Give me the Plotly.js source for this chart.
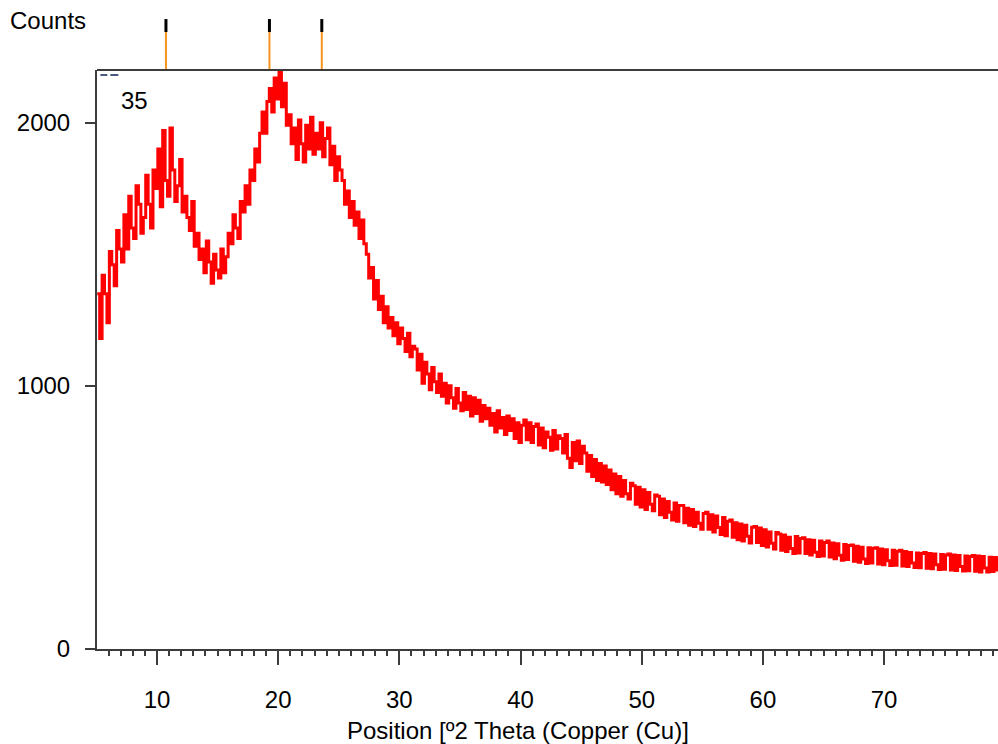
<!DOCTYPE html>
<html><head><meta charset="utf-8">
<script src="https://cdn.plot.ly/plotly-3.0.1.min.js"></script>
<style>html,body{margin:0;padding:0;background:#fff}#chart{width:998px;height:744px}</style>
</head><body><div id="chart"></div>
<script>
// Scan grid (2θ)
const thetaStart = 5.07;
const thetaStep = 0.2;
// Counts, one row = 2°
const counts = [
  1350,
  1180, 1420, 1350, 1240, 1510, 1460, 1380, 1590, 1520, 1470,
  1650, 1520, 1720, 1600, 1560, 1760, 1690, 1580, 1640, 1800,
  1690, 1600, 1820, 1750, 1900, 1680, 1970, 1780, 1720, 1980,
  1820, 1700, 1760, 1860, 1660, 1720, 1640, 1590, 1700, 1530,
  1580, 1480, 1520, 1430, 1550, 1470, 1390, 1500, 1440, 1410,
  1520, 1430, 1490, 1580, 1540, 1650, 1600, 1560, 1700, 1660,
  1760, 1690, 1820, 1780, 1900, 1850, 1960, 2040, 1960, 2080,
  2130, 2040, 2170, 2090, 2195, 2060, 2150, 1990, 2030, 1920,
  1980, 1860, 2010, 1920, 1850, 1990, 1900, 2020, 1880, 1960,
  1900, 2000, 1870, 1940, 1980, 1840, 1910, 1780, 1870, 1820,
  1780, 1690, 1740, 1640, 1700, 1610, 1660, 1560, 1630, 1540,
  1500, 1410, 1450, 1330, 1400, 1290, 1340, 1240, 1300, 1220,
  1260, 1190, 1240, 1160, 1220, 1180, 1130, 1200, 1110, 1150,
  1140, 1060, 1120, 1010, 1090, 1045, 985, 1070, 1015, 975,
  1045, 960, 1010, 935, 1000, 955, 915, 990, 935, 905,
  975, 910, 960, 885, 955, 895, 945, 865, 925, 875,
  915, 850, 895, 825, 905, 840, 880, 815, 885, 830,
  875, 800, 860, 785, 850, 870, 795, 860, 785, 845,
  855, 775, 840, 765, 825, 805, 755, 830, 760, 810,
  800, 745, 815, 725, 690, 785, 715, 790, 705, 770,
  745, 675, 735, 655, 720, 640, 705, 635, 695, 625,
  680, 605, 665, 590, 655, 580, 640, 590, 570, 630,
  620, 550, 615, 540, 605, 530, 595, 550, 525, 585,
  580, 510, 570, 500, 560, 520, 490, 555, 485, 545,
  545, 480, 535, 470, 530, 465, 520, 478, 455, 515,
  520, 455, 510, 445, 505, 462, 435, 500, 430, 485,
  490, 425, 480, 415, 475, 410, 470, 428, 403, 463,
  465, 405, 460, 393, 453, 388, 445, 402, 380, 443,
  437, 375, 433, 370, 425, 382, 363, 427, 365, 420,
  423, 363, 415, 357, 413, 368, 351, 410, 353, 405,
  410, 350, 403, 343, 400, 356, 337, 397, 340, 393,
  395, 333, 390, 330, 387, 342, 325, 385, 327, 383,
  385, 323, 380, 320, 377, 335, 317, 375, 318, 371,
  375, 315, 370, 313, 367, 327, 310, 365, 309, 363,
  367, 307, 363, 305, 361, 320, 302, 359, 303, 357,
  361, 300, 357, 298, 355, 313, 296, 353, 297, 351,
  355, 295, 353, 293, 351, 308, 293, 349, 294, 348,
  300, 345
];
const theta = counts.map((_, i) => +(thetaStart + i * thetaStep).toFixed(3));

// Reference peak positions (2θ)
const referencePeaks = [10.74, 19.28, 23.6];

const yTickVals = [0, 1000, 2000];
const yTickText = ['0', '1000', '2000'];
const xTickVals = [10, 20, 30, 40, 50, 60, 70];
const xTickText = ['10', '20', '30', '40', '50', '60', '70'];

const FONT = 'Arial, "Liberation Sans", sans-serif';
const FS = 24;

const shapes = [];
referencePeaks.forEach(p => {
  shapes.push({type: 'line', xref: 'x', yref: 'paper', x0: p, x1: p, y0: 1, y1: 1.0656,
    line: {color: '#f7941d', width: 2}});
  shapes.push({type: 'line', xref: 'x', yref: 'paper', x0: p, x1: p, y0: 1.0656, y1: 1.088,
    line: {color: '#000000', width: 3}});
});
// top frame
shapes.push({type: 'line', xref: 'paper', yref: 'paper', x0: 0, x1: 1, y0: 1, y1: 1,
  line: {color: '#3c3c3c', width: 2}});
// small marks at top-left corner
shapes.push({type: 'line', xref: 'paper', yref: 'paper', x0: 0.0037, x1: 0.0115, y0: 0.9914, y1: 0.9914,
  line: {color: '#4a5a80', width: 2}});
shapes.push({type: 'line', xref: 'paper', yref: 'paper', x0: 0.0148, x1: 0.0237, y0: 0.9914, y1: 0.9914,
  line: {color: '#4a5a80', width: 2}});

const data = [{
  type: 'scatter', mode: 'lines', x: theta, y: counts,
  line: {color: '#ff0000', width: 3, shape: 'hv'}, hoverinfo: 'skip'
}];

const layout = {
  width: 998, height: 744,
  margin: {l: 97, r: 0, t: 70, b: 95, pad: 0},
  paper_bgcolor: '#ffffff', plot_bgcolor: '#ffffff',
  showlegend: false,
  font: {family: FONT, size: FS, color: '#000'},
  xaxis: {
    range: [5.05, 79.4], showgrid: false, zeroline: false,
    showline: true, linecolor: '#3c3c3c', linewidth: 2,
    ticks: 'outside', ticklen: 14, tickwidth: 2, tickcolor: '#3c3c3c',
    tickvals: xTickVals, ticktext: xTickText,
    ticklabelstandoff: 14,
    tickfont: {family: FONT, size: FS, color: '#000'},
    minor: {dtick: 1, tick0: 0, ticks: 'outside', ticklen: 5, tickwidth: 2, tickcolor: '#3c3c3c', showgrid: false},
    automargin: false
  },
  yaxis: {
    range: [0, 2200], showgrid: false, zeroline: false,
    showline: true, linecolor: '#3c3c3c', linewidth: 2,
    ticks: 'outside', ticklen: 10, tickwidth: 2, tickcolor: '#3c3c3c',
    tickvals: yTickVals, ticktext: yTickText,
    ticklabelstandoff: 10,
    tickfont: {family: FONT, size: FS, color: '#000'},
    automargin: false
  },
  shapes: shapes,
  annotations: [
    {text: 'Position [º2 Theta (Copper (Cu)]', xref: 'paper', yref: 'paper', x: 0.4674, y: -0.1416,
     xanchor: 'center', yanchor: 'middle', showarrow: false, font: {family: FONT, size: FS, color: '#000'}},
    {text: 'Counts', xref: 'paper', yref: 'paper', x: -0.0984, y: 1.0855,
     xanchor: 'left', yanchor: 'middle', showarrow: false, font: {family: FONT, size: FS, color: '#000'}},
    {text: '35', xref: 'paper', yref: 'paper', x: 0.0416, y: 0.9466,
     xanchor: 'center', yanchor: 'middle', showarrow: false, font: {family: FONT, size: FS, color: '#000'}}
  ]
};

Plotly.newPlot('chart', data, layout, {displayModeBar: false, staticPlot: true});
</script></body></html>
